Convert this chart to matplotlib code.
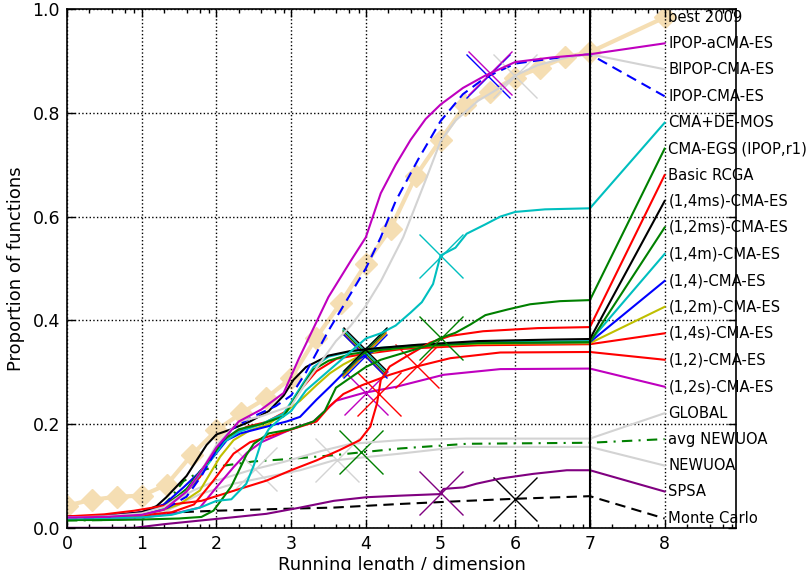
import numpy as np
import matplotlib
matplotlib.use('Agg')
import matplotlib.pyplot as plt

names = ["best 2009", "IPOP-aCMA-ES", "BIPOP-CMA-ES", "IPOP-CMA-ES", "CMA+DE-MOS",
         "CMA-EGS (IPOP,r1)", "Basic RCGA", "(1,4ms)-CMA-ES", "(1,2ms)-CMA-ES",
         "(1,4m)-CMA-ES", "(1,4)-CMA-ES", "(1,2m)-CMA-ES", "(1,4s)-CMA-ES",
         "(1,2)-CMA-ES", "(1,2s)-CMA-ES", "GLOBAL", "avg NEWUOA", "NEWUOA",
         "SPSA", "Monte Carlo"]

label_y = [0.984, 0.934, 0.884, 0.832, 0.781, 0.731, 0.680, 0.630, 0.579, 0.528,
           0.476, 0.426, 0.375, 0.324, 0.272, 0.221, 0.171, 0.120, 0.070, 0.018]

best_x = [0, 0.333, 0.667, 1.0, 1.333, 1.667, 2.0, 2.333, 2.667, 3.0, 3.333, 3.667,
          4.0, 4.333, 4.667, 5.0, 5.333, 5.667, 6.0, 6.333, 6.667, 7.0]
best_y = [0.043, 0.054, 0.060, 0.062, 0.083, 0.140, 0.188, 0.221, 0.250, 0.289, 0.366,
          0.434, 0.509, 0.577, 0.678, 0.748, 0.815, 0.841, 0.868, 0.887, 0.907, 0.917]

ipopa_x = [0, 0.5, 1.0, 1.3, 1.6, 1.8, 2.0, 2.3, 2.6, 2.9, 3.1, 3.3, 3.5, 3.8, 4.0,
           4.2, 4.4, 4.6, 4.8, 5.0, 5.3, 5.6, 6.0, 6.5, 7.0]
ipopa_y = [0.02, 0.021, 0.025, 0.035, 0.07, 0.11, 0.155, 0.205, 0.228, 0.26, 0.325,
           0.385, 0.445, 0.515, 0.56, 0.645, 0.700, 0.748, 0.788, 0.816, 0.848, 0.872,
           0.898, 0.907, 0.913]

bipop_x = [0, 0.5, 1.0, 1.3, 1.6, 1.8, 2.0, 2.3, 2.6, 3.0, 3.2, 3.4, 3.6, 3.8, 4.0,
           4.2, 4.5, 4.8, 5.0, 5.2, 5.5, 5.8, 6.0, 6.3, 6.7, 7.0]
bipop_y = [0.02, 0.022, 0.028, 0.04, 0.07, 0.11, 0.16, 0.205, 0.215, 0.235, 0.28,
           0.32, 0.36, 0.39, 0.428, 0.475, 0.56, 0.67, 0.745, 0.785, 0.823, 0.849,
           0.872, 0.892, 0.907, 0.913]

ipop_x = [0, 0.5, 1.0, 1.3, 1.6, 1.8, 2.0, 2.2, 2.5, 2.8, 3.0, 3.2, 3.5, 3.75, 4.0,
          4.2, 4.4, 4.7, 5.0, 5.3, 5.6, 6.0, 6.5, 7.0]
ipop_y = [0.02, 0.021, 0.027, 0.035, 0.06, 0.10, 0.15, 0.19, 0.215, 0.235, 0.255,
          0.30, 0.38, 0.44, 0.50, 0.56, 0.63, 0.71, 0.784, 0.836, 0.868, 0.895, 0.905,
          0.913]

demos_x = [0, 0.5, 1.0, 1.4, 1.8, 2.0, 2.2, 2.4, 2.5, 2.6, 2.7, 2.85, 3.0, 3.2, 3.4,
           3.6, 3.8, 4.0, 4.2, 4.4, 4.6, 4.75, 4.9, 5.0, 5.2, 5.35, 5.6, 5.8, 6.0,
           6.4, 7.0]
demos_y = [0.018, 0.019, 0.02, 0.025, 0.04, 0.052, 0.055, 0.085, 0.12, 0.165, 0.19,
           0.21, 0.225, 0.265, 0.29, 0.315, 0.34, 0.365, 0.375, 0.39, 0.415, 0.435,
           0.47, 0.525, 0.54, 0.567, 0.585, 0.600, 0.609, 0.614, 0.616]

egs_x = [0, 0.5, 1.0, 1.5, 1.8, 1.96, 2.1, 2.2, 2.3, 2.4, 2.5, 2.7, 3.0, 3.3, 3.45,
         3.6, 3.8, 4.0, 4.2, 4.5, 4.8, 5.0, 5.2, 5.4, 5.6, 5.9, 6.2, 6.6, 7.0]
egs_y = [0.015, 0.015, 0.016, 0.018, 0.021, 0.033, 0.06, 0.08, 0.11, 0.14, 0.162,
         0.182, 0.19, 0.205, 0.225, 0.27, 0.29, 0.31, 0.324, 0.337, 0.35, 0.366,
         0.376, 0.392, 0.41, 0.421, 0.431, 0.437, 0.439]

rcga_x = [0, 0.5, 0.9, 1.4, 1.8, 2.2, 2.67, 3.0, 3.34, 3.65, 3.92, 4.06, 4.15, 4.2,
          4.32, 4.55, 4.86, 5.13, 5.57, 6.3, 7.0]
rcga_y = [0.022, 0.026, 0.033, 0.045, 0.052, 0.07, 0.091, 0.111, 0.130, 0.150, 0.169,
          0.195, 0.24, 0.285, 0.311, 0.331, 0.357, 0.370, 0.379, 0.385, 0.387]

c14ms_x = [0, 0.5, 1.0, 1.2, 1.33, 1.6, 1.87, 2.0, 2.2, 2.45, 2.7, 2.9, 3.03, 3.2,
           3.5, 3.8, 4.2, 4.7, 5.5, 6.5, 7.0]
c14ms_y = [0.02, 0.022, 0.03, 0.042, 0.059, 0.10, 0.16, 0.18, 0.19, 0.205, 0.225,
           0.255, 0.285, 0.31, 0.332, 0.341, 0.347, 0.353, 0.36, 0.363, 0.364]

c12ms_x = [0, 0.5, 1.0, 1.3, 1.6, 1.9, 2.1, 2.3, 2.6, 2.9, 3.1, 3.3, 3.5, 3.8, 4.2,
           4.7, 5.5, 7.0]
c12ms_y = [0.02, 0.021, 0.026, 0.04, 0.075, 0.13, 0.17, 0.19, 0.2, 0.215, 0.26,
           0.305, 0.322, 0.335, 0.343, 0.35, 0.356, 0.358]

c14m_x = [0, 0.5, 1.0, 1.3, 1.6, 1.9, 2.1, 2.3, 2.6, 2.9, 3.1, 3.3, 3.5, 3.8, 4.2,
          4.7, 5.5, 7.0]
c14m_y = [0.02, 0.021, 0.027, 0.038, 0.07, 0.125, 0.165, 0.185, 0.2, 0.22, 0.265,
          0.31, 0.33, 0.34, 0.347, 0.352, 0.358, 0.36]

c14_x = [0, 0.5, 1.0, 1.3, 1.56, 1.75, 1.96, 2.14, 2.32, 2.67, 2.94, 3.12, 3.34, 3.52,
         3.7, 3.88, 4.15, 4.7, 5.5, 7.0]
c14_y = [0.022, 0.023, 0.03, 0.045, 0.078, 0.104, 0.137, 0.169, 0.182, 0.195, 0.205,
         0.214, 0.247, 0.272, 0.298, 0.324, 0.344, 0.352, 0.357, 0.358]

c12m_x = [0, 0.5, 1.0, 1.3, 1.5, 1.78, 2.05, 2.23, 2.45, 2.7, 2.9, 3.12, 3.34, 3.52,
          3.7, 3.9, 4.2, 4.7, 5.5, 7.0]
c12m_y = [0.02, 0.021, 0.025, 0.035, 0.045, 0.072, 0.137, 0.169, 0.188, 0.2, 0.221,
          0.245, 0.275, 0.298, 0.315, 0.33, 0.343, 0.35, 0.355, 0.356]

c14s_x = [0, 0.5, 1.0, 1.3, 1.6, 1.78, 1.96, 2.14, 2.41, 2.67, 2.94, 3.12, 3.34, 3.61,
          3.97, 4.5, 5.5, 7.0]
c14s_y = [0.022, 0.023, 0.03, 0.045, 0.07, 0.098, 0.143, 0.175, 0.195, 0.204, 0.225,
          0.265, 0.302, 0.326, 0.335, 0.345, 0.352, 0.354]

c12_x = [0, 0.5, 1.0, 1.4, 1.7, 1.96, 2.23, 2.45, 2.9, 3.34, 3.52, 3.7, 3.95, 4.32,
         4.68, 5.13, 5.8, 7.0]
c12_y = [0.02, 0.021, 0.024, 0.03, 0.045, 0.091, 0.143, 0.165, 0.185, 0.205, 0.235,
         0.258, 0.275, 0.295, 0.311, 0.327, 0.338, 0.339]

c12s_x = [0, 0.5, 1.0, 1.42, 1.78, 2.0, 2.23, 2.41, 2.6, 3.0, 3.3, 3.6, 3.97, 4.41,
          5.04, 5.8, 7.0]
c12s_y = [0.018, 0.018, 0.02, 0.027, 0.039, 0.078, 0.117, 0.145, 0.165, 0.19, 0.205,
          0.245, 0.26, 0.272, 0.295, 0.306, 0.307]

glob_x = [0, 0.5, 1.0, 1.3, 1.69, 2.0, 2.45, 2.9, 3.4, 3.8, 4.46, 5.35, 7.0]
glob_y = [0.02, 0.022, 0.028, 0.04, 0.072, 0.091, 0.111, 0.127, 0.148, 0.162, 0.169,
          0.172, 0.172]

avgnu_x = [0, 0.5, 1.0, 1.2, 1.4, 1.56, 1.8, 1.96, 2.5, 3.0, 3.57, 3.97, 4.46, 5.35, 7.0]
avgnu_y = [0.014, 0.015, 0.018, 0.03, 0.06, 0.09, 0.11, 0.117, 0.128, 0.133, 0.14,
           0.146, 0.153, 0.162, 0.164]

newuoa_x = [0, 0.5, 1.0, 1.3, 1.78, 2.23, 2.67, 3.12, 3.57, 4.46, 5.26, 7.0]
newuoa_y = [0.015, 0.016, 0.02, 0.03, 0.065, 0.085, 0.098, 0.111, 0.130, 0.143, 0.156,
            0.156]

spsa_x = [0, 0.9, 1.3, 1.78, 2.2, 2.67, 3.12, 3.57, 4.01, 4.46, 4.99, 5.04, 5.31, 5.48,
          5.8, 6.24, 6.69, 7.0]
spsa_y = [0.0, 0.0, 0.007, 0.014, 0.02, 0.027, 0.039, 0.052, 0.059, 0.062, 0.065,
          0.075, 0.078, 0.085, 0.095, 0.104, 0.111, 0.111]

mc_x = [0, 1.0, 1.5, 2.0, 3.0, 3.57, 4.46, 5.35, 6.0, 7.0]
mc_y = [0.02, 0.024, 0.03, 0.033, 0.037, 0.039, 0.046, 0.052, 0.056, 0.061]

# position (x) of the large cross on each curve (None: no cross)
cross_x = [None, 5.66, 6.0, 5.64, 5.0, 5.0, 4.17, 3.99, 3.97, 3.98, 3.99, 3.97, 3.98,
           4.69, 4.0, 2.52, 3.94, 3.61, 5.0, 6.0]

curves_x = [best_x, ipopa_x, bipop_x, ipop_x, demos_x, egs_x, rcga_x, c14ms_x, c12ms_x,
            c14m_x, c14_x, c12m_x, c14s_x, c12_x, c12s_x, glob_x, avgnu_x, newuoa_x,
            spsa_x, mc_x]
curves_y = [best_y, ipopa_y, bipop_y, ipop_y, demos_y, egs_y, rcga_y, c14ms_y, c12ms_y,
            c14m_y, c14_y, c12m_y, c14s_y, c12_y, c12s_y, glob_y, avgnu_y, newuoa_y,
            spsa_y, mc_y]

colors = ['#F5DEB3', '#BF00BF', '#D3D3D3', '#0000FF', '#00BFBF', '#008000', '#FF0000',
          '#000000', '#008000', '#00BFBF', '#0000FF', '#BFBF00', '#FF0000', '#FF0000',
          '#BF00BF', '#D3D3D3', '#008000', '#D3D3D3', '#800080', '#000000']
lstyles = ['-', '-', '-', (0, (5, 3)), '-', '-', '-', '-', '-', '-', '-', '-', '-', '-',
           '-', '-', (0, (5, 3, 1, 3)), '-', '-', (0, (5, 3))]

fig = plt.figure(figsize=(8.1, 5.7), dpi=100)
ax = fig.add_axes([0.0827, 0.074, 0.826, 0.910])

n = len(names)
for i in reversed(range(n)):
    xs = list(curves_x[i]) + [8.0]
    ys = list(curves_y[i]) + [label_y[i]]
    if i == 0:
        ax.plot(xs, ys, color=colors[i], lw=3, marker='D', ms=11, mec=colors[i],
                zorder=1.5)
    else:
        ax.plot(xs, ys, color=colors[i], lw=1.5, ls=lstyles[i], zorder=2 + 0.01 * (n - i))
        if cross_x[i] is not None:
            cy = np.interp(cross_x[i], curves_x[i], curves_y[i])
            ax.plot([cross_x[i]], [cy], ls='none', marker='x', ms=31, mew=1,
                    color=colors[i], zorder=2 + 0.01 * (n - i))
    ax.text(8.05, label_y[i], names[i], fontsize=10.6, va='center', ha='left',
            clip_on=False, zorder=2.2)

ax.axvline(7, color='k', lw=1.5, zorder=2.3)

ax.set_xlim(0, 8.956)
ax.set_ylim(0, 1.0)
ax.set_xticks(range(0, 9))
ax.set_yticks([0.0, 0.2, 0.4, 0.6, 0.8, 1.0])
ax.set_yticklabels(['0.0', '0.2', '0.4', '0.6', '0.8', '1.0'])
minor = [k + np.log10(m) for k in range(0, 9) for m in (2, 4, 6, 8) if k + np.log10(m) < 8.956]
ax.set_xticks(minor, minor=True)
ax.tick_params(axis='both', which='major', direction='in', length=6, width=1,
               top=True, right=True, labelsize=12.5, pad=5)
ax.tick_params(axis='x', which='minor', direction='in', length=3, width=1,
               top=True, bottom=True)
ax.grid(True, which='major', color='k', ls=':', lw=1)
for s in ax.spines.values():
    s.set_linewidth(1.2)
    s.set_zorder(3)

ax.set_xlabel('Running length / dimension', fontsize=13, labelpad=2)
ax.set_ylabel('Proportion of functions', fontsize=13, labelpad=5)

fig.savefig('out.png', dpi=100)
